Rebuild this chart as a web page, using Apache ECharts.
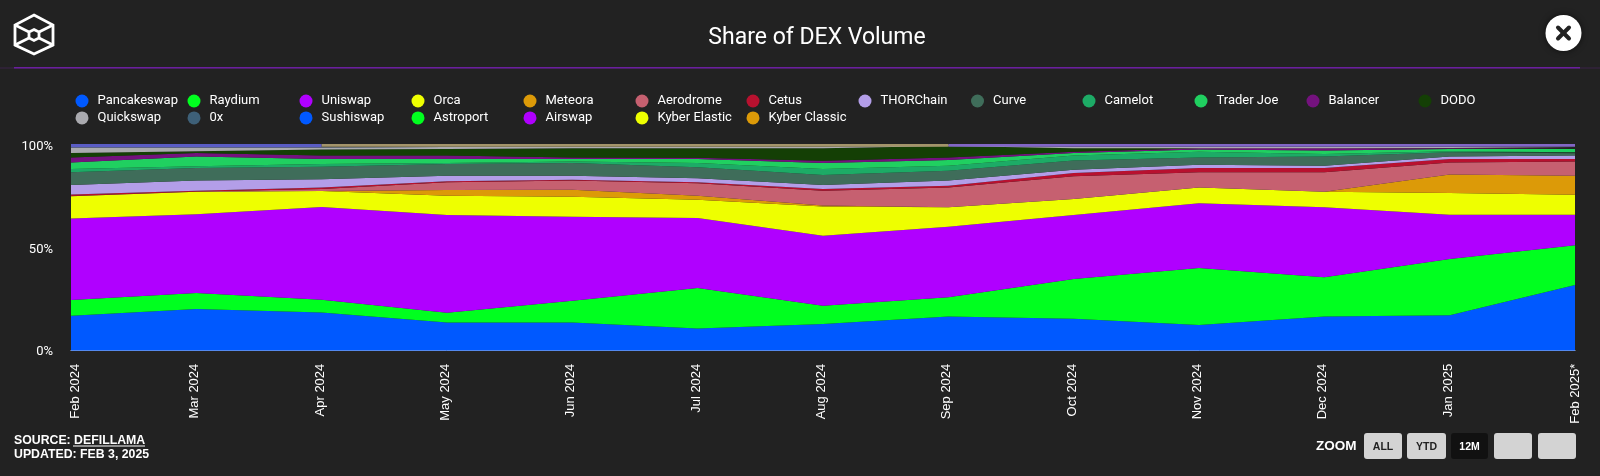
<!DOCTYPE html>
<html>
<head>
<meta charset="utf-8">
<style>html,body{margin:0;padding:0;background:#222222}#chart{width:1600px;height:476px}</style>
<script src="https://cdn.jsdelivr.net/npm/echarts@6/dist/echarts.min.js"></script>
</head>
<body>
<div id="chart"></div>
<script>
// Monthly share of DEX volume, percent of the total.
const months = ['Feb 2024','Mar 2024','Apr 2024','May 2024','Jun 2024','Jul 2024','Aug 2024','Sep 2024','Oct 2024','Nov 2024','Dec 2024','Jan 2025','Feb 2025*'];
const pancakeswap = [16.9,20.2,18.5,13.7,13.7,10.8,12.9,16.5,15.5,12.4,16.5,17.1,31.8];
const raydium     = [7.6,7.7,6.2,4.7,10.5,19.5,8.9,9.3,19.2,27.6,19,27.3,19.2];
const uniswap     = [39.5,38.1,44.8,47.2,40.6,33.9,33.8,34.2,30.9,31.3,33.9,21.4,14.8];
const orca        = [10.7,10.9,7.8,9.4,9.7,8.8,14.2,9.4,7.8,7.7,7.5,10.5,9.7];
const meteora     = [0,0,0,2.7,3.4,2,0.4,0,0,0,0,8.9,9.2];
const aerodrome   = [0.1,0.1,0.9,3.8,4.4,6,7.2,9.6,11,7.3,9.4,5.9,6.8];
const cetus       = [0.8,0.4,0.8,0.5,0.4,0.5,0.8,0.8,1.6,2.1,2.1,1.6,1.2];
const thorchain   = [4.6,4.9,4,2.7,2,1.9,2,2.5,1.6,1.6,1.1,1.3,1.7];
const curve       = [6.1,6.1,6,5.6,6.1,5.3,4.8,4.8,4.4,3.5,4.4,2,1.1];
const camelot     = [1.6,0.8,1.3,0.5,0.7,2.1,2.9,2.4,2.4,2.8,1.3,0.5,0.5];
const traderJoe   = [3.2,4.7,2.4,1.9,1.2,1.9,2.9,2.8,1.2,1,1.6,1.1,1.6];
const balancer    = [2.4,1.7,1.7,1.7,0.8,0.7,1.1,1.2,0.7,0.6,1.1,0.4,0.4];
const dodo        = [2.1,0.9,2.9,3.2,4.4,4.5,6,5.5,1.6,0.1,0.1,0.1,0.1];
const quickswap   = [2.7,1.8,1,1,0.7,0.7,0.7,0.4,0.7,0.6,0.6,0.5,0.5];
const zeroX       = [0.1,0.1,0.1,0.1,0.1,0.1,0.1,0.1,0.1,0.1,0.1,0.1,0.1];
const astroport   = [0,0,0,0,0,0,0,0,0,0,0,0,0];
const kyberElastic= [0,0,0,0,0,0,0,0,0,0,0,0,0];
// The thin top band hangs from 100% on a reversed axis.
const sushiswap   = [1.6,1.6,1.6,null,null,null,null,null,null,null,null,null,null];
const kyberClassic= [null,null,1.3,1.3,1.3,1.3,1.3,1.3,null,null,null,null,null];
const airswap     = [null,null,null,null,null,null,null,1.3,1.3,1.3,1.3,1.3,1.3];

const stacked = [
  ['Pancakeswap', pancakeswap, '#0059ff'],
  ['Raydium', raydium, '#00ff1f'],
  ['Uniswap', uniswap, '#b000ff'],
  ['Orca', orca, '#eeff00'],
  ['Meteora', meteora, '#dc9a08'],
  ['Aerodrome', aerodrome, '#c66070'],
  ['Cetus', cetus, '#b8112f'],
  ['THORChain', thorchain, '#b39ee8'],
  ['Curve', curve, '#3f6d5a'],
  ['Camelot', camelot, '#1dab66'],
  ['Trader Joe', traderJoe, '#20d060'],
  ['Balancer', balancer, '#74127e'],
  ['DODO', dodo, '#143f05'],
  ['Quickswap', quickswap, '#aaaaaf'],
  ['0x', zeroX, '#3e6078'],
  ['Astroport', astroport, '#00ff1f'],
  ['Kyber Elastic', kyberElastic, '#eeff00']
];
const hanging = [
  ['Sushiswap', sushiswap, '#0059ff', '#5a5cc4'],
  ['Airswap', airswap, '#b000ff', '#8266c6'],
  ['Kyber Classic', kyberClassic, '#dc9a08', '#a3946a']
];

const legendColumns = [
  ['Pancakeswap','Quickswap'],['Raydium','0x'],['Uniswap','Sushiswap'],['Orca','Astroport'],
  ['Meteora','Airswap'],['Aerodrome','Kyber Elastic'],['Cetus','Kyber Classic'],['THORChain'],
  ['Curve'],['Camelot'],['Trader Joe'],['Balancer'],['DODO']
];
const legendLefts = [75.5,187.5,299.5,411.5,523.5,635.5,746.5,858.5,971,1082.5,1194.5,1306.5,1418.5];

const UI_FONT = 'Roboto, sans-serif';
const BOX_FONT = '"Liberation Sans", Arial, sans-serif';

const series = stacked.map(([name, data, color]) => ({
  name, data, type: 'line', stack: 'share', showSymbol: false, symbol: 'none',
  itemStyle: { color }, lineStyle: { width: 0 }, areaStyle: { color, opacity: 1 }
})).concat(hanging.map(([name, data, color, band]) => ({
  name, data, type: 'line', yAxisIndex: 1, showSymbol: false, symbol: 'none',
  itemStyle: { color }, lineStyle: { width: 0 }, areaStyle: { color: band, opacity: 1 }
})));

const stroke = { stroke: '#ffffff', lineWidth: 2.8, fill: null };
const buttons = [
  [1364, 38, '#d3d3d3', 'ALL', '#222222'],
  [1407, 39, '#d3d3d3', 'YTD', '#222222'],
  [1451, 37, '#111111', '12M', '#ffffff'],
  [1494, 38, '#d3d3d3', '', '#222222'],
  [1538, 38, '#d3d3d3', '', '#222222']
];

const graphic = [
  // Header rule
  { type: 'rect', shape: { x: 0, y: 67.5, width: 1600, height: 1 }, style: { fill: '#3a2348' }, silent: true },
  { type: 'rect', shape: { x: 14, y: 67, width: 1566, height: 1.5 }, style: { fill: '#6a1f9e' }, silent: true },
  // Logo: a cube inside a hexagon
  { type: 'polygon', shape: { points: [[34,15],[53,25],[53,45],[34,54],[15,45],[15,25]] }, style: stroke },
  { type: 'polygon', shape: { points: [[34,29.5],[39,32],[39,38],[34,40.5],[29,38],[29,32]] }, style: stroke },
  { type: 'line', shape: { x1: 15, y1: 25, x2: 29, y2: 32 }, style: stroke },
  { type: 'line', shape: { x1: 53, y1: 25, x2: 39, y2: 32 }, style: stroke },
  { type: 'line', shape: { x1: 15, y1: 45, x2: 29, y2: 38 }, style: stroke },
  { type: 'line', shape: { x1: 53, y1: 45, x2: 39, y2: 38 }, style: stroke },
  // Close button
  { type: 'circle', shape: { cx: 1563.5, cy: 33, r: 18 }, style: { fill: '#ffffff', shadowBlur: 6, shadowColor: 'rgba(0,0,0,0.6)' } },
  { type: 'line', shape: { x1: 1558, y1: 27.5, x2: 1569, y2: 38.5 }, style: { stroke: '#222222', lineWidth: 4, lineCap: 'round' } },
  { type: 'line', shape: { x1: 1569, y1: 27.5, x2: 1558, y2: 38.5 }, style: { stroke: '#222222', lineWidth: 4, lineCap: 'round' } },
  // Title
  { type: 'text', style: { x: 817, y: 38, text: 'Share of DEX Volume', fill: '#ffffff', font: '23px ' + UI_FONT, textAlign: 'center', textVerticalAlign: 'middle' } },
  // Source note
  { type: 'text', style: { x: 14, y: 441, text: 'SOURCE: DEFILLAMA', fill: '#ffffff', font: 'bold 12.3px ' + BOX_FONT, textVerticalAlign: 'middle' } },
  { type: 'rect', shape: { x: 73, y: 445.5, width: 72, height: 1 }, style: { fill: '#ffffff' } },
  { type: 'text', style: { x: 14, y: 455, text: 'UPDATED: FEB 3, 2025', fill: '#ffffff', font: 'bold 12.3px ' + BOX_FONT, textVerticalAlign: 'middle' } },
  // Zoom selector
  { type: 'text', style: { x: 1316, y: 446.5, text: 'ZOOM', fill: '#ffffff', font: 'bold 13.5px ' + BOX_FONT, textVerticalAlign: 'middle' } }
];
buttons.forEach(([x, w, fill, label, ink]) => {
  graphic.push({ type: 'rect', shape: { x, y: 433, width: w, height: 26, r: 3 }, style: { fill } });
  if (label) graphic.push({ type: 'text', style: { x: x + w / 2, y: 447, text: label, fill: ink, font: 'bold 10.5px ' + BOX_FONT, textAlign: 'center', textVerticalAlign: 'middle' } });
});

const chart = echarts.init(document.getElementById('chart'), null, { renderer: 'canvas' });
const monthLabel = { color: '#ffffff', fontFamily: BOX_FONT, fontSize: 13 };
const shareLabel = { color: '#ffffff', fontFamily: UI_FONT, fontSize: 13 };
chart.setOption({
  animation: false,
  backgroundColor: '#222222',
  grid: { left: 71, right: 25, top: 144, bottom: 125.3 },
  legend: legendColumns.map((names, i) => ({
    data: names, orient: 'vertical', left: legendLefts[i], top: 94, padding: 0,
    icon: 'circle', itemWidth: 13, itemHeight: 13, itemGap: 2.9,
    selectedMode: false,
    textStyle: { color: '#ffffff', fontFamily: UI_FONT, fontSize: 13, padding: [1, 0, 0, 4], height: 13, lineHeight: 13 }
  })),
  xAxis: {
    type: 'category', data: months, boundaryGap: false,
    axisLine: { show: true, lineStyle: { color: '#c0c8d8', width: 1 } },
    axisTick: { show: false },
    splitLine: { show: false },
    axisLabel: {
      interval: 0, rotate: 90, margin: 13, color: '#ffffff', fontFamily: BOX_FONT, fontSize: 13,
      // The first month sits just inside the plot edge, the others a touch left of their points.
      formatter: (value, index) => index === 0 ? '{first|' + value + '}' : index === months.length - 1 ? value : '{rest|' + value + '}',
      rich: {
        first: Object.assign({ padding: [9, 0, 0, 0] }, monthLabel),
        rest: Object.assign({ padding: [0, 0, 3, 0] }, monthLabel)
      }
    }
  },
  yAxis: [
    {
      type: 'value', min: 0, max: 100, interval: 50,
      axisLine: { show: false }, axisTick: { show: false }, splitLine: { show: false },
      axisLabel: {
        margin: 18, color: '#ffffff', fontFamily: UI_FONT, fontSize: 13,
        // The upper labels sit further below their gridline position than 0%.
        formatter: value => (value === 0 ? '{low|' : value === 50 ? '{mid|' : '{high|') + value + '%}',
        rich: {
          low: Object.assign({ padding: [2, 0, 0, 0] }, shareLabel),
          mid: Object.assign({ padding: [5, 0, 0, 0] }, shareLabel),
          high: Object.assign({ padding: [6, 0, 0, 0] }, shareLabel)
        }
      }
    },
    { type: 'value', min: 0, max: 100, inverse: true, show: false }
  ],
  series,
  graphic
});
</script>
</body>
</html>
